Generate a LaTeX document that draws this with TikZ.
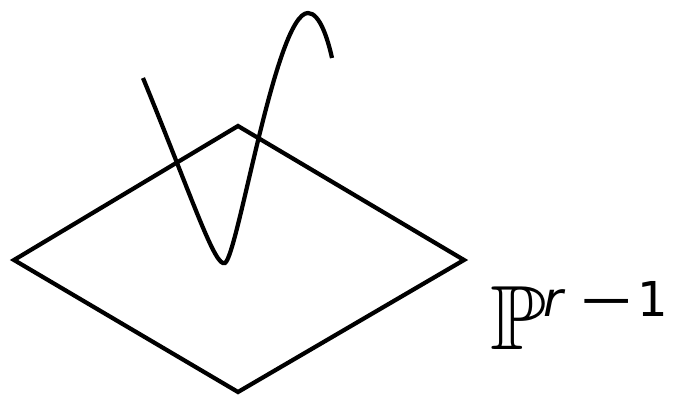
\documentclass[tikz,border=0pt]{standalone}
\usepackage{amssymb}
\usepackage{fontspec}
\newfontfamily\dvsans{DejaVu Sans}
\tikzset{
  stroke/.style={line width=3.6pt, line cap=butt, line join=miter},
  bbtext/.style={inner sep=0pt, anchor=base west, font=\fontsize{78}{78}\selectfont},
  suptext/.style={inner sep=0pt, anchor=base west, font=\dvsans\fontsize{41}{41}\selectfont}
}
\begin{document}
\begin{tikzpicture}[x=0.03cm, y=-0.03cm]
  \useasboundingbox (0,0) rectangle (676,398);
  \coordinate (L) at (14,260);
  \coordinate (T) at (238,126);
  \coordinate (R) at (464,260);
  \coordinate (B) at (238,392);
  \draw[stroke] (L) -- (T) -- (R) -- (B) -- cycle;
  \coordinate (c0) at (143,78);
  \coordinate (c1) at (225,263);
  \coordinate (c2) at (308,13);
  \coordinate (c3) at (332,58);
  \draw[stroke] (c0) .. controls (193,200) and (215,268) .. (c1)
                     .. controls (238,255) and (276,13) .. (c2)
                     .. controls (320,13) and (328,40) .. (c3);
  \node[bbtext] (P) at (490,349) {$\mathbb{P}$};
  \node[suptext] (Sr) at (543,316) {\itshape r};
  \node[suptext, anchor=base] (Sm) at (606.5,316) {\scalebox{1.45}[1]{−}};
  \node[suptext] (S1) at (637,316) {1};
\end{tikzpicture}
\end{document}
